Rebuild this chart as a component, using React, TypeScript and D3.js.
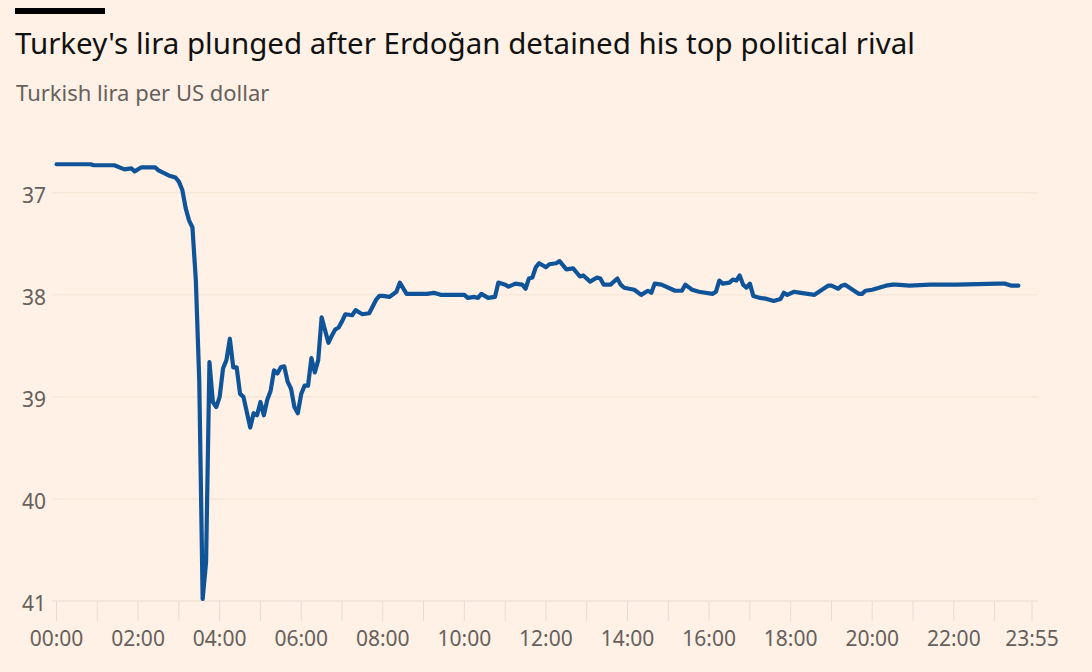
import React, { useEffect, useRef } from 'react';
import * as d3 from 'd3';

// Turkish lira per US dollar, intraday (5-minute marks)
const times: string[] = [
  '00:00', '00:50', '00:55', '01:25', '01:40', '01:50', '01:55', '02:05', '02:25', '02:30',
  '02:45', '02:55', '03:00', '03:05', '03:10', '03:15', '03:20', '03:25', '03:30', '03:35',
  '03:40', '03:45', '03:50', '03:55', '04:00', '04:05', '04:10', '04:15', '04:20', '04:25',
  '04:30', '04:35', '04:45', '04:50', '04:55', '05:00', '05:05', '05:10', '05:15', '05:20',
  '05:25', '05:30', '05:35', '05:40', '05:45', '05:50', '05:55', '06:00', '06:05', '06:10',
  '06:15', '06:20', '06:25', '06:30', '06:40', '06:45', '06:50', '06:55', '07:00', '07:05',
  '07:15', '07:20', '07:25', '07:30', '07:40', '07:50', '07:55', '08:00', '08:10', '08:20',
  '08:25', '08:35', '08:45', '09:05', '09:15', '09:25', '09:35', '10:00', '10:05', '10:15',
  '10:20', '10:25', '10:30', '10:35', '10:45', '10:50', '11:00', '11:05', '11:15', '11:25',
  '11:30', '11:35', '11:40', '11:45', '11:50', '12:00', '12:05', '12:15', '12:20', '12:30',
  '12:40', '12:50', '12:55', '13:05', '13:15', '13:20', '13:25', '13:35', '13:45', '13:50',
  '13:55', '14:10', '14:20', '14:30', '14:35', '14:40', '14:50', '15:10', '15:20', '15:25',
  '15:35', '15:45', '16:05', '16:10', '16:15', '16:20', '16:30', '16:35', '16:40', '16:45',
  '16:50', '16:55', '17:00', '17:05', '17:10', '17:15', '17:25', '17:35', '17:45', '17:50',
  '17:55', '18:05', '18:15', '18:25', '18:35', '18:55', '19:00', '19:10', '19:15', '19:20',
  '19:40', '19:45', '19:50', '20:00', '20:20', '20:30', '20:35', '20:55', '21:25', '21:35',
  '22:05', '23:05', '23:15', '23:25', '23:35', '23:55',
];

const rates: number[] = [
  36.72, 36.72, 36.73, 36.73, 36.77, 36.76, 36.79, 36.75, 36.75, 36.78,
  36.83, 36.85, 36.89, 36.97, 37.15, 37.27, 37.34, 37.86, 38.84, 40.98,
  40.62, 38.66, 39.05, 39.10, 39.00, 38.72, 38.64, 38.43, 38.71, 38.71,
  38.97, 39.00, 39.30, 39.16, 39.18, 39.05, 39.18, 39.03, 38.94, 38.74,
  38.77, 38.71, 38.70, 38.85, 38.92, 39.10, 39.16, 38.97, 38.89, 38.89,
  38.62, 38.76, 38.64, 38.22, 38.47, 38.40, 38.34, 38.32, 38.26, 38.19,
  38.20, 38.15, 38.17, 38.19, 38.18, 38.05, 38.01, 38.01, 38.02, 37.97,
  37.88, 37.99, 37.99, 37.99, 37.98, 38.00, 38.00, 38.00, 38.03, 38.02,
  38.03, 37.99, 38.01, 38.03, 38.02, 37.88, 37.90, 37.92, 37.89, 37.90,
  37.94, 37.84, 37.83, 37.73, 37.69, 37.73, 37.70, 37.69, 37.67, 37.75,
  37.74, 37.82, 37.81, 37.87, 37.83, 37.84, 37.90, 37.90, 37.84, 37.90,
  37.93, 37.95, 38.00, 37.96, 37.98, 37.89, 37.90, 37.96, 37.96, 37.90,
  37.95, 37.97, 37.99, 37.97, 37.86, 37.89, 37.88, 37.85, 37.86, 37.81,
  37.90, 37.93, 37.89, 38.01, 38.02, 38.03, 38.04, 38.06, 38.04, 37.98,
  38.00, 37.97, 37.98, 37.99, 38.00, 37.91, 37.91, 37.94, 37.91, 37.90,
  37.99, 37.99, 37.96, 37.95, 37.91, 37.90, 37.90, 37.91, 37.90, 37.90,
  37.90, 37.89, 37.89, 37.91, 37.91,
];

const yTicks: number[] = [37, 38, 39, 40, 41];
const xTickLabels: string[] = [
  '00:00', '02:00', '04:00', '06:00', '08:00', '10:00',
  '12:00', '14:00', '16:00', '18:00', '20:00', '22:00', '23:55',
];

const toMinutes = (t: string) => {
  const [h, m] = t.split(':').map(Number);
  return h * 60 + m;
};

const W = 1092;
const H = 672;
const FONT = '"Noto Sans", "Open Sans", sans-serif';

const App: React.FC = () => {
  const svgRef = useRef<SVGSVGElement>(null);

  useEffect(() => {
    document.body.style.margin = '0';
    document.body.style.background = '#fff1e5';
    if (!svgRef.current) return;

    const svg = d3.select(svgRef.current);
    svg.selectAll('*').remove();

    const x = d3.scaleLinear().domain([0, toMinutes('23:55')]).range([56.5, 1032]);
    const y = d3.scaleLinear().domain([37, 41]).range([192.8, 601]);

    svg.append('rect').attr('width', W).attr('height', H).attr('fill', '#fff1e5');

    // header
    svg.append('rect').attr('x', 15).attr('y', 8).attr('width', 90).attr('height', 6).attr('fill', '#000');
    svg.append('text')
      .attr('x', 15).attr('y', 54)
      .attr('font-family', FONT).attr('font-size', 29.5).attr('fill', '#111')
      .text("Turkey's lira plunged after Erdoğan detained his top political rival");
    svg.append('text')
      .attr('x', 16).attr('y', 101)
      .attr('font-family', FONT).attr('font-size', 22).attr('fill', '#66605c')
      .text('Turkish lira per US dollar');

    // gridlines + y labels
    const grid = svg.append('g');
    yTicks.forEach((v) => {
      grid.append('line')
        .attr('x1', 52).attr('x2', 1038)
        .attr('y1', y(v)).attr('y2', y(v))
        .attr('stroke', v === 41 ? '#e9dccf' : '#f5e4d5')
        .attr('stroke-width', 1);
      grid.append('text')
        .attr('x', 22).attr('y', y(v) + 10)
        .attr('font-family', FONT).attr('font-size', 21).attr('fill', '#66605c')
        .text(String(v));
    });

    // x ticks every hour plus the end
    const hourTicks = d3.range(0, 24).map((h) => h * 60).concat([toMinutes('23:55')]);
    hourTicks.forEach((m) => {
      svg.append('line')
        .attr('x1', x(m)).attr('x2', x(m))
        .attr('y1', y(41)).attr('y2', y(41) + 20)
        .attr('stroke', '#e9dccf').attr('stroke-width', 1);
    });
    xTickLabels.forEach((t) => {
      svg.append('text')
        .attr('x', x(toMinutes(t))).attr('y', 646)
        .attr('text-anchor', 'middle')
        .attr('font-family', FONT).attr('font-size', 21).attr('fill', '#66605c')
        .text(t);
    });

    // series
    const data = times.map((t, i) => ({ m: toMinutes(t), v: rates[i] }));
    const line = d3.line<{ m: number; v: number }>()
      .x((d) => x(d.m))
      .y((d) => y(d.v));
    svg.append('path')
      .datum(data)
      .attr('d', line)
      .attr('fill', 'none')
      .attr('stroke', '#0f5499')
      .attr('stroke-width', 4.2)
      .attr('stroke-linejoin', 'round')
      .attr('stroke-linecap', 'round');
  }, []);

  return <svg ref={svgRef} width={W} height={H} style={{ display: 'block' }} />;
};

export default App;
